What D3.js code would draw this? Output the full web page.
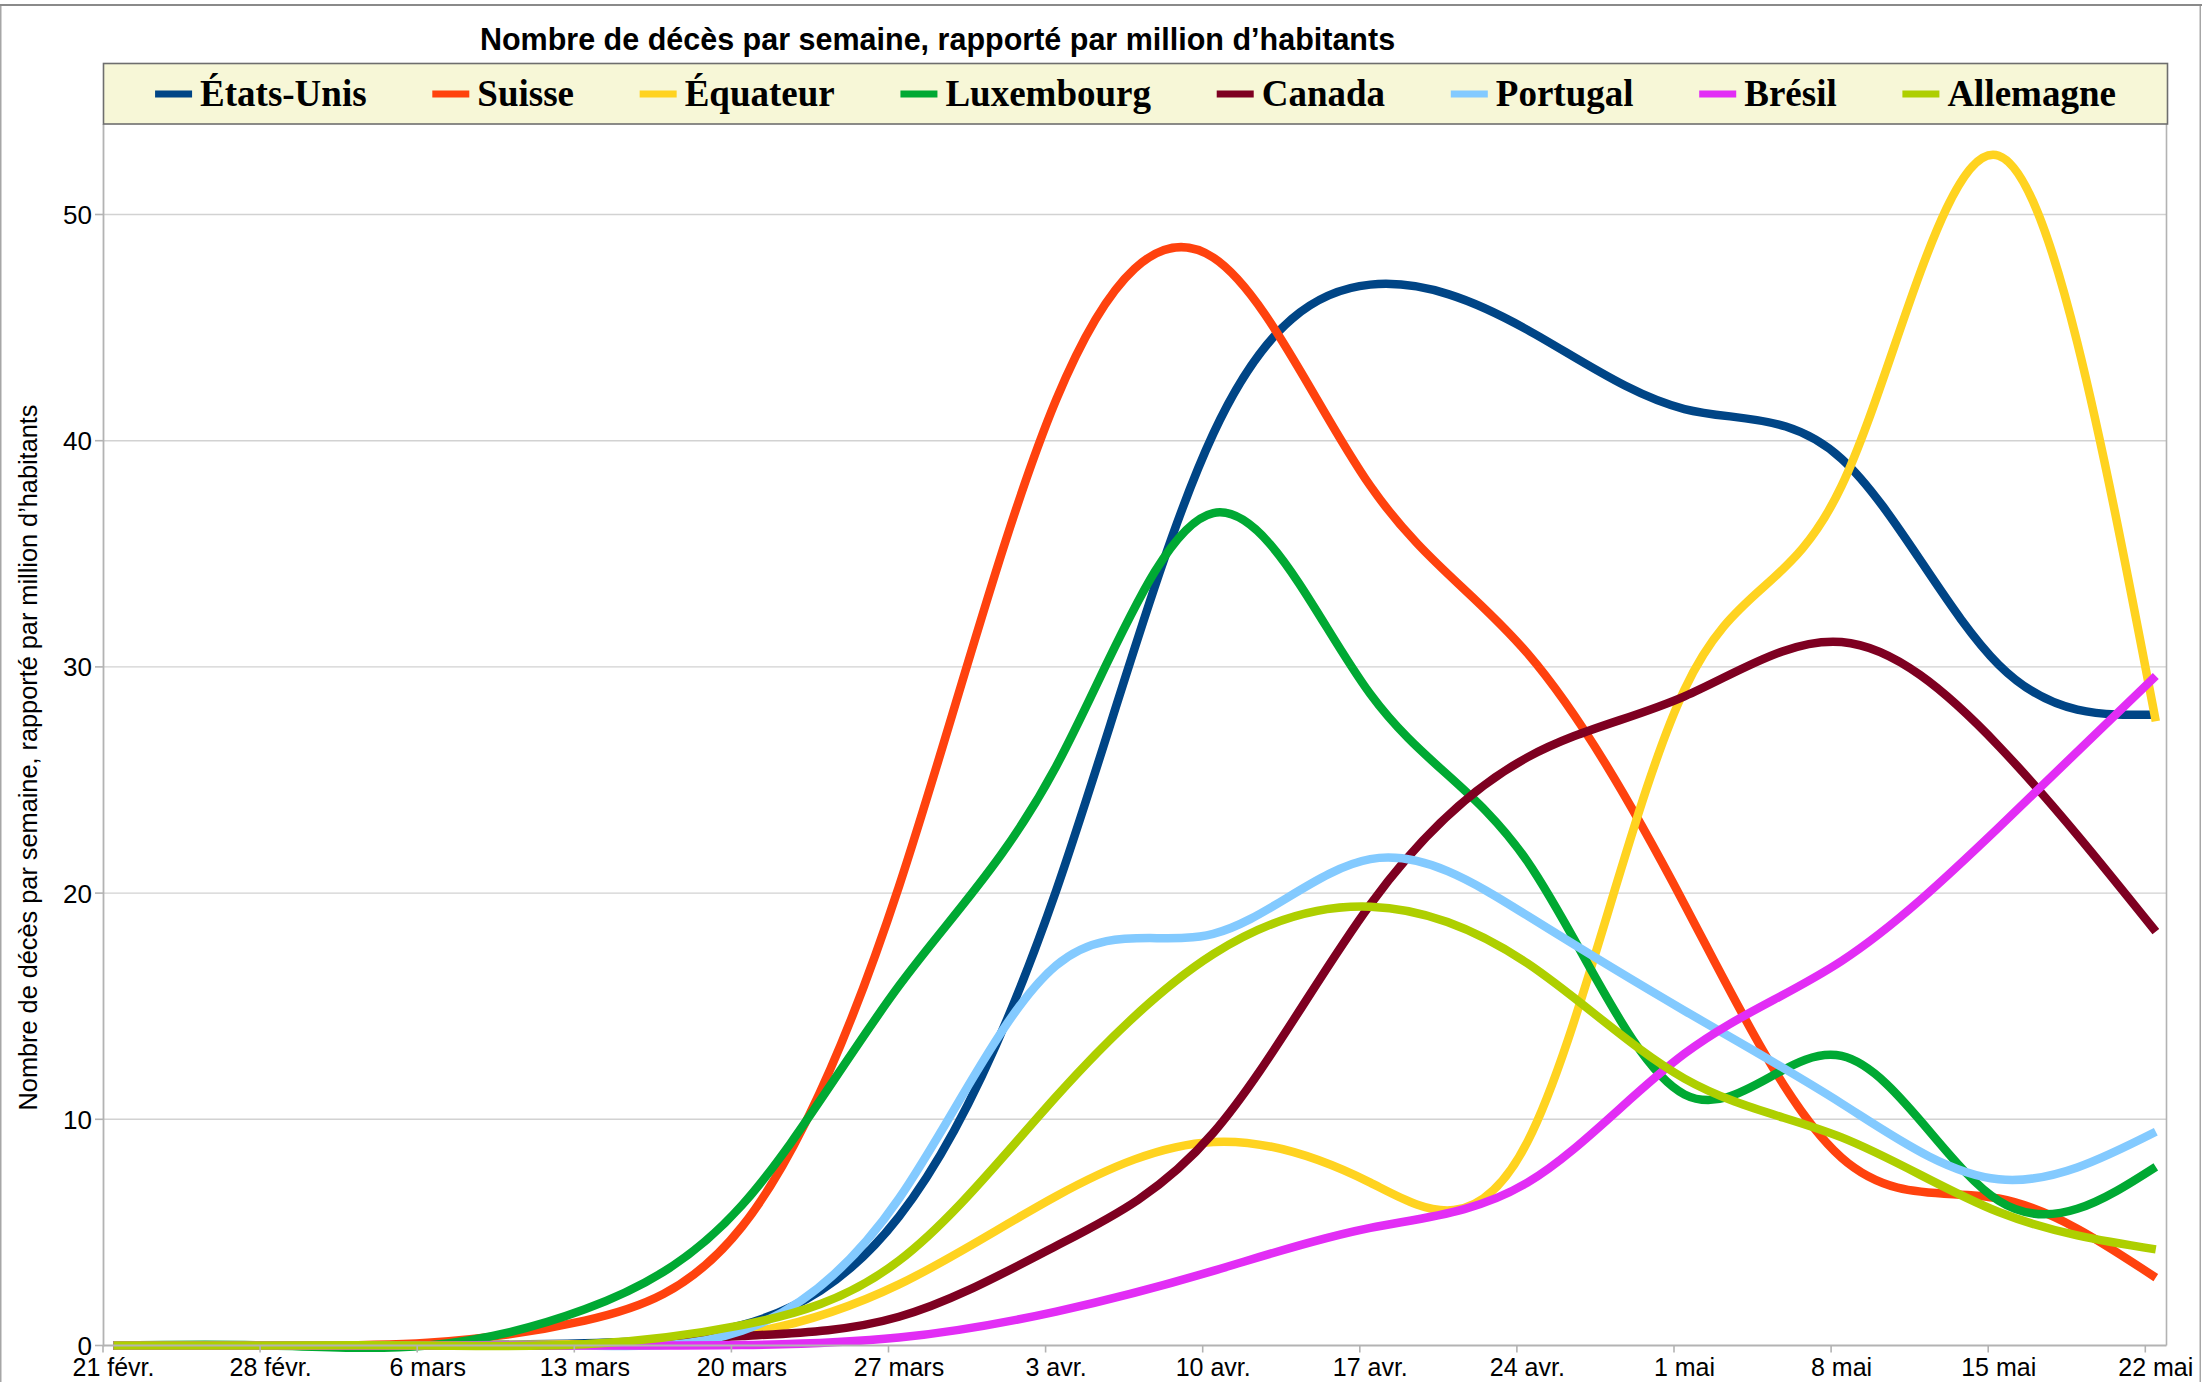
<!DOCTYPE html>
<html><head><meta charset="utf-8">
<script src="https://cdn.jsdelivr.net/npm/d3@7"></script>
<style>html,body{margin:0;padding:0;background:#fff;} svg{display:block;}</style>
</head><body>
<svg id="chart" width="2202" height="1382"></svg>
<script>
// ---- data ----
const weeks = ["21 févr.","28 févr.","6 mars","13 mars","20 mars","27 mars","3 avr.","10 avr.","17 avr.","24 avr.","1 mai","8 mai","15 mai","22 mai"];
const countries = ["États-Unis","Suisse","Équateur","Luxembourg","Canada","Portugal","Brésil","Allemagne"];
const colors = ["#004586","#ff420e","#ffd320","#00a933","#7e0021","#83caff","#e22df5","#aecf00"];
const etatsUnis  = [0,0,0.01,0.1,0.9,5.7,20.1,40.3,46.9,44.9,41.4,39.2,30.1,27.9];
const suisse     = [0,0,0.12,1.1,5.25,20.3,41.8,48.1,38.0,30.6,19.5,8.3,6.5,3.0];
const equateur   = [0,0,0,0.06,0.5,2.7,6.6,9.0,7.2,9.0,29.0,38.0,52.6,27.6];
const luxembourg = [0,0,0,1.6,6.2,15.9,25.6,36.8,28.8,21.4,11.1,12.8,6.4,7.9];
const canada     = [0,0,0,0.03,0.42,1.27,4.4,9.4,19.5,26.0,28.7,31.1,26.5,18.3];
const portugal   = [0,0,0,0,0.65,6.5,16.8,18.2,21.5,19.0,14.8,10.7,7.35,9.45];
const bresil     = [0,0,0,0,0.02,0.35,1.5,3.3,5.2,7.2,12.9,17.0,22.9,29.6];
const allemagne  = [0,0,0,0.05,0.9,3.75,11.0,17.3,19.4,16.9,11.8,9.2,5.9,4.25];
const yTicks = [0,10,20,30,40,50];
const titleText = "Nombre de décès par semaine, rapporté par million d’habitants";
const yTitleText = "Nombre de décès par semaine, rapporté par million d’habitants";

const seriesValues = [etatsUnis, suisse, equateur, luxembourg, canada, portugal, bresil, allemagne];
const series = countries.map((name, k) => ({name, color: colors[k], values: seriesValues[k]}));

// ---- layout ----
const svg = d3.select("#chart");
const plot = {left: 103.5, right: 2166.5, top: 124, bottom: 1345.5};
const x = d3.scaleLinear().domain([0, weeks.length - 1]).range([113.5, 2155.8]);
const y = d3.scaleLinear().domain([0, 50]).range([plot.bottom, 214.5]);
const tickShift = -10.5;
const axisColor = "#b3b3b3";
const sans = "'Liberation Sans', Arial, sans-serif";

// outer frame
svg.append("rect").attr("x", 0.75).attr("y", 5).attr("width", 2199.5).attr("height", 1400)
  .attr("fill", "#fff").attr("stroke", "#a6a6a6").attr("stroke-width", 1.5);
svg.append("line").attr("x1", 0).attr("x2", 2202).attr("y1", 5).attr("y2", 5)
  .attr("stroke", "#8a8a8a").attr("stroke-width", 2);

// gridlines
svg.append("g").selectAll("line").data(yTicks.filter(d => d > 0)).join("line")
  .attr("x1", plot.left).attr("x2", plot.right)
  .attr("y1", d => y(d)).attr("y2", d => y(d))
  .attr("stroke", "#d2d2d2").attr("stroke-width", 1.4);

// plot frame (right side)
svg.append("line").attr("x1", plot.right).attr("x2", plot.right).attr("y1", plot.top).attr("y2", plot.bottom)
  .attr("stroke", axisColor).attr("stroke-width", 1.6);

// series lines
const line = d3.line().x((d, i) => x(i)).y(d => y(d)).curve(d3.curveNatural);
svg.append("g").selectAll("path").data(series).join("path")
  .attr("d", d => line(d.values))
  .attr("fill", "none").attr("stroke", d => d.color)
  .attr("stroke-width", 8.5).attr("stroke-linecap", "butt").attr("stroke-linejoin", "round");

// axes lines
svg.append("line").attr("x1", plot.left).attr("x2", plot.left).attr("y1", plot.top).attr("y2", plot.bottom + 1)
  .attr("stroke", axisColor).attr("stroke-width", 1.8);
svg.append("line").attr("x1", plot.left).attr("x2", plot.right).attr("y1", plot.bottom).attr("y2", plot.bottom)
  .attr("stroke", axisColor).attr("stroke-width", 1.8);

// y ticks & labels
const yAxisG = svg.append("g");
yAxisG.selectAll("line").data(yTicks).join("line")
  .attr("x1", 95).attr("x2", plot.left).attr("y1", d => y(d)).attr("y2", d => y(d))
  .attr("stroke", axisColor).attr("stroke-width", 1.6);
yAxisG.selectAll("text").data(yTicks).join("text")
  .attr("x", 92).attr("y", d => y(d) + 9.5)
  .attr("text-anchor", "end")
  .attr("font-family", sans).attr("font-size", 26)
  .attr("fill", "#000").text(d => d);

// x ticks & labels
const xAxisG = svg.append("g");
xAxisG.selectAll("line").data(weeks).join("line")
  .attr("x1", (d, i) => x(i) + tickShift).attr("x2", (d, i) => x(i) + tickShift)
  .attr("y1", plot.bottom).attr("y2", plot.bottom + 7)
  .attr("stroke", axisColor).attr("stroke-width", 1.6);
xAxisG.selectAll("text").data(weeks).join("text")
  .attr("x", (d, i) => x(i)).attr("y", 1376)
  .attr("text-anchor", "middle")
  .attr("font-family", sans).attr("font-size", 25)
  .attr("fill", "#000").text(d => d);

// y axis title
svg.append("text")
  .attr("transform", "translate(37,757.5) rotate(-90)")
  .attr("text-anchor", "middle")
  .attr("font-family", sans).attr("font-size", 25.3)
  .attr("fill", "#000").text(yTitleText);

// title
svg.append("text").attr("x", 937.5).attr("y", 50)
  .attr("text-anchor", "middle")
  .attr("font-family", sans).attr("font-weight", "bold").attr("font-size", 30.5)
  .attr("fill", "#000").text(titleText);

// legend
const legend = {x: 103.5, y: 63.5, w: 2064, h: 60.5};
svg.append("rect").attr("x", legend.x).attr("y", legend.y).attr("width", legend.w).attr("height", legend.h)
  .attr("fill", "#f7f7d7").attr("stroke", "#6e6e6e").attr("stroke-width", 1.6);
const lg = svg.append("g");
const swW = 37, swGap = 8, itemGap = 65.7;
const items = lg.selectAll("g").data(series).join("g");
items.append("rect").attr("class", "sw").attr("x", 0).attr("y", 90.5).attr("width", swW).attr("height", 7)
  .attr("fill", d => d.color);
items.append("text").attr("x", swW + swGap).attr("y", 106)
  .attr("font-family", "'Liberation Serif', 'Times New Roman', serif").attr("font-weight", "bold")
  .attr("font-size", 37).attr("fill", "#000").text(d => d.name);
// flow layout
let widths = [];
items.each(function() { widths.push(swW + swGap + d3.select(this).select("text").node().getComputedTextLength()); });
const total = d3.sum(widths) + itemGap * (widths.length - 1);
let cx = legend.x + (legend.w - total) / 2;
items.each(function(d, i) { d3.select(this).attr("transform", `translate(${cx},0)`); cx += widths[i] + itemGap; });
</script>
</body></html>
